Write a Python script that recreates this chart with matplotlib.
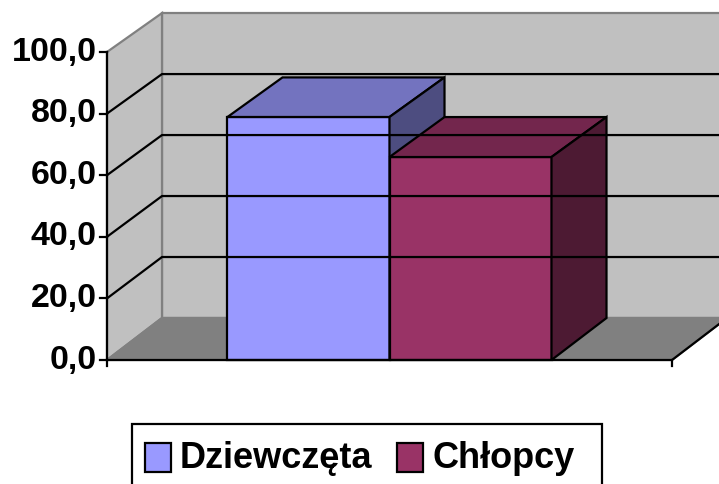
import matplotlib.pyplot as plt
from matplotlib.patches import Polygon, Rectangle

# data
series = ['Dziewczęta', 'Chłopcy']
values = [78.9, 65.9]
yticks = [0, 20, 40, 60, 80, 100]
ytick_labels = ['0,0', '20,0', '40,0', '60,0', '80,0', '100,0']

front_colors = ['#9999FF', '#993366']
top_colors = ['#7373BF', '#73264D']
side_colors = ['#4D4D80', '#4D1A33']

plt.rcParams['font.family'] = ['Liberation Sans', 'DejaVu Sans']

W, H = 719, 484
fig = plt.figure(figsize=(W / 100, H / 100), dpi=100)
ax = fig.add_axes([0, 0, 1, 1])
ax.set_axis_off()

# x: floor front edge 0..1, y: value units
XPX = 565.0   # px per x unit
YPX = 3.08    # px per value unit
x0px, y0px = 107, H - 360
ax.set_xlim(-x0px / XPX, (W - x0px) / XPX)
ax.set_ylim(-y0px / YPX, (H - y0px) / YPX)

DX = 55 / XPX
DY = 42 / YPX
SHRINK = 0.01


def proj(x, v, d):
    # point at depth d (0 front, 1 back)
    return (x + d * DX, v * (1 - d * SHRINK) + d * DY)


lw = 1.6
ymax = 100
xright = 1.2

# back wall
back = [proj(0, 0, 1), proj(xright, 0, 1), proj(xright, ymax, 1), proj(0, ymax, 1)]
ax.add_patch(Polygon(back, closed=True, facecolor='#C0C0C0', edgecolor='#808080', lw=lw))
# side wall
side = [proj(0, 0, 0), proj(0, 0, 1), proj(0, ymax, 1), proj(0, ymax, 0)]
ax.add_patch(Polygon(side, closed=True, facecolor='#C0C0C0', edgecolor='#808080', lw=lw))
# floor
floor = [proj(0, 0, 0), proj(1, 0, 0), proj(1, 0, 1), proj(0, 0, 1)]
ax.add_patch(Polygon(floor, closed=True, facecolor='#808080', edgecolor='#808080', lw=lw))

# gridlines
for v in yticks[1:-1]:
    a, b, c = proj(0, v, 0), proj(0, v, 1), proj(xright, v, 1)
    ax.plot([a[0], b[0], c[0]], [a[1], b[1], c[1]], color='black', lw=lw, solid_capstyle='butt')

# floor front and right edges
a, b, c = proj(0, 0, 0), proj(1, 0, 0), proj(1, 0, 1)
ax.plot([a[0], b[0], c[0]], [a[1], b[1], c[1]], color='black', lw=lw)

# bars
bw = 162 / XPX
left0 = 0.5 - bw * len(values) / 2
for i, v in enumerate(values):
    xl = left0 + i * bw
    xr = xl + bw
    front = [proj(xl, 0, 0), proj(xr, 0, 0), proj(xr, v, 0), proj(xl, v, 0)]
    top = [proj(xl, v, 0), proj(xr, v, 0), proj(xr, v, 1), proj(xl, v, 1)]
    rside = [proj(xr, 0, 0), proj(xr, 0, 1), proj(xr, v, 1), proj(xr, v, 0)]
    ax.add_patch(Polygon(front, closed=True, facecolor=front_colors[i], edgecolor='black', lw=lw, joinstyle='miter'))
    ax.add_patch(Polygon(top, closed=True, facecolor=top_colors[i], edgecolor='black', lw=lw, joinstyle='miter'))
    ax.add_patch(Polygon(rside, closed=True, facecolor=side_colors[i], edgecolor='black', lw=lw, joinstyle='miter'))

# value axis
ax.plot([0, 0], [-6 / YPX, ymax], color='black', lw=lw)
ax.plot([1, 1], [-6 / YPX, 0], color='black', lw=lw)
tick_len = 7 / XPX
for v, lab in zip(yticks, ytick_labels):
    ax.plot([-tick_len, 0], [v, v], color='black', lw=lw)
    ax.text(-10 / XPX, v, lab, ha='right', va='center', fontsize=24.5, fontweight='bold')

# legend
fx = lambda px: px / W
fy = lambda py: 1 - py / H
fig.patches.append(Rectangle((fx(132), fy(500)), fx(602) - fx(132), fy(424) - fy(500),
                             transform=fig.transFigure, facecolor='white', edgecolor='black', lw=lw))
sq_x = [145, 397]
txt_x = [180, 433]
for i, name in enumerate(series):
    fig.patches.append(Rectangle((fx(sq_x[i]), fy(472)), fx(26), 29 / H,
                                 transform=fig.transFigure, facecolor=front_colors[i],
                                 edgecolor='black', lw=lw))
    fig.text(fx(txt_x[i]), fy(468), name, ha='left', va='baseline', fontsize=26, fontweight='bold')

fig.savefig('out.png', dpi=100)
